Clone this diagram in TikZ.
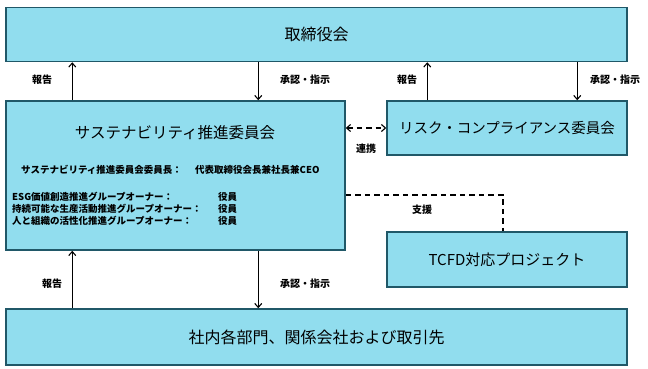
\documentclass[tikz,border=0pt]{standalone}
\usepackage{fontspec}
\setmainfont{Noto Sans CJK JP}
\usetikzlibrary{positioning,arrows.meta}
\definecolor{boxfill}{RGB}{145,221,238}
\definecolor{boxline}{RGB}{32,88,104}

\begin{document}
\begin{tikzpicture}[x=1pt, y=-1pt,
  box/.style={draw=boxline, fill=boxfill, line width=1.5pt, inner sep=0pt},
  lbl/.style={font=\fontsize{10}{12}\selectfont\bfseries, inner sep=0pt},
  member/.style={font=\fontsize{9.5}{11}\selectfont\bfseries, inner sep=0pt, anchor=west},
  flow/.style={-{Straight Barb[length=4pt,width=7pt]}, line width=1.1pt},
  link/.style={line width=1.1pt, dash pattern=on 5.5pt off 4pt}]
\useasboundingbox[fill=white] (0,0) rectangle (648,369);

\node[box, minimum width=621pt, minimum height=54pt, font=\fontsize{16}{19}\selectfont] (board) at (316.5,34.5) {取締役会};
\node[box, minimum width=339pt, minimum height=149pt] (sus) at (175.5,175.5) {};
\node[box, minimum width=240pt, minimum height=54pt, font=\fontsize{14.5}{17}\selectfont] (risk) at (507,128) {リスク・コンプライアンス委員会};
\node[box, minimum width=240pt, minimum height=55pt, font=\fontsize{15}{18}\selectfont] (tcfd) at (507,259.5) {TCFD対応プロジェクト};
\node[box, minimum width=621pt, minimum height=56pt, font=\fontsize{16}{19}\selectfont] (dept) at (316.5,337) {社内各部門、関係会社および取引先};

% inside the sustainability committee
\node[font=\fontsize{15.5}{18}\selectfont] (sustitle) at (175,133) {サステナビリティ推進委員会};
\node[member] (chair) at (21,170) {サステナビリティ推進委員会委員長：};
\node[member] (chairname) at (195,170) {代表取締役会長兼社長兼CEO};
\node[member] (esg) at (12,197) {ESG価値創造推進グループオーナー：};
\node[member] (prod) at (12,209) {持続可能な生産活動推進グループオーナー：};
\node[member] (people) at (12,221) {人と組織の活性化推進グループオーナー：};
\node[member] (esgrole) at (218,197) {役員};
\node[member] (prodrole) at (218,209) {役員};
\node[member] (peoplerole) at (218,221) {役員};

% report / approval arrows
\draw[flow] ([xshift=67pt]sus.north west) -- ([xshift=67pt]sus.north west |- board.south);
\draw[flow] ([xshift=253pt]board.south west) -- ([xshift=253pt]board.south west |- sus.north);
\draw[flow] ([xshift=41pt]risk.north west) -- ([xshift=41pt]risk.north west |- board.south);
\draw[flow] ([xshift=191pt]risk.north west |- board.south) -- ([xshift=191pt]risk.north west);
\draw[flow] ([xshift=67pt]dept.north west) -- ([xshift=67pt]dept.north west |- sus.south);
\draw[flow] ([xshift=253pt]sus.south west) -- ([xshift=253pt]sus.south west |- dept.north);

\node[lbl] (rep1) at (42,80) {報告};
\node[lbl] (app1) at (305,80) {承認・指示};
\node[lbl] (rep2) at (407,80) {報告};
\node[lbl] (app2) at (615,80) {承認・指示};
\node[lbl] (rep3) at (52,284) {報告};
\node[lbl] (app3) at (305,284) {承認・指示};

% dashed links
\draw[link, {Straight Barb[length=4pt,width=7pt]}-{Straight Barb[length=4pt,width=7pt]}] (sus.east |- risk.west) -- (risk.west);
\node[lbl] (coop) at (366,149) {連携};
\draw[link] ([yshift=-19.5pt]sus.east) -| ([xshift=-4pt]tcfd.north);
\node[lbl] (support) at (422,210) {支援};
\end{tikzpicture}
\end{document}
